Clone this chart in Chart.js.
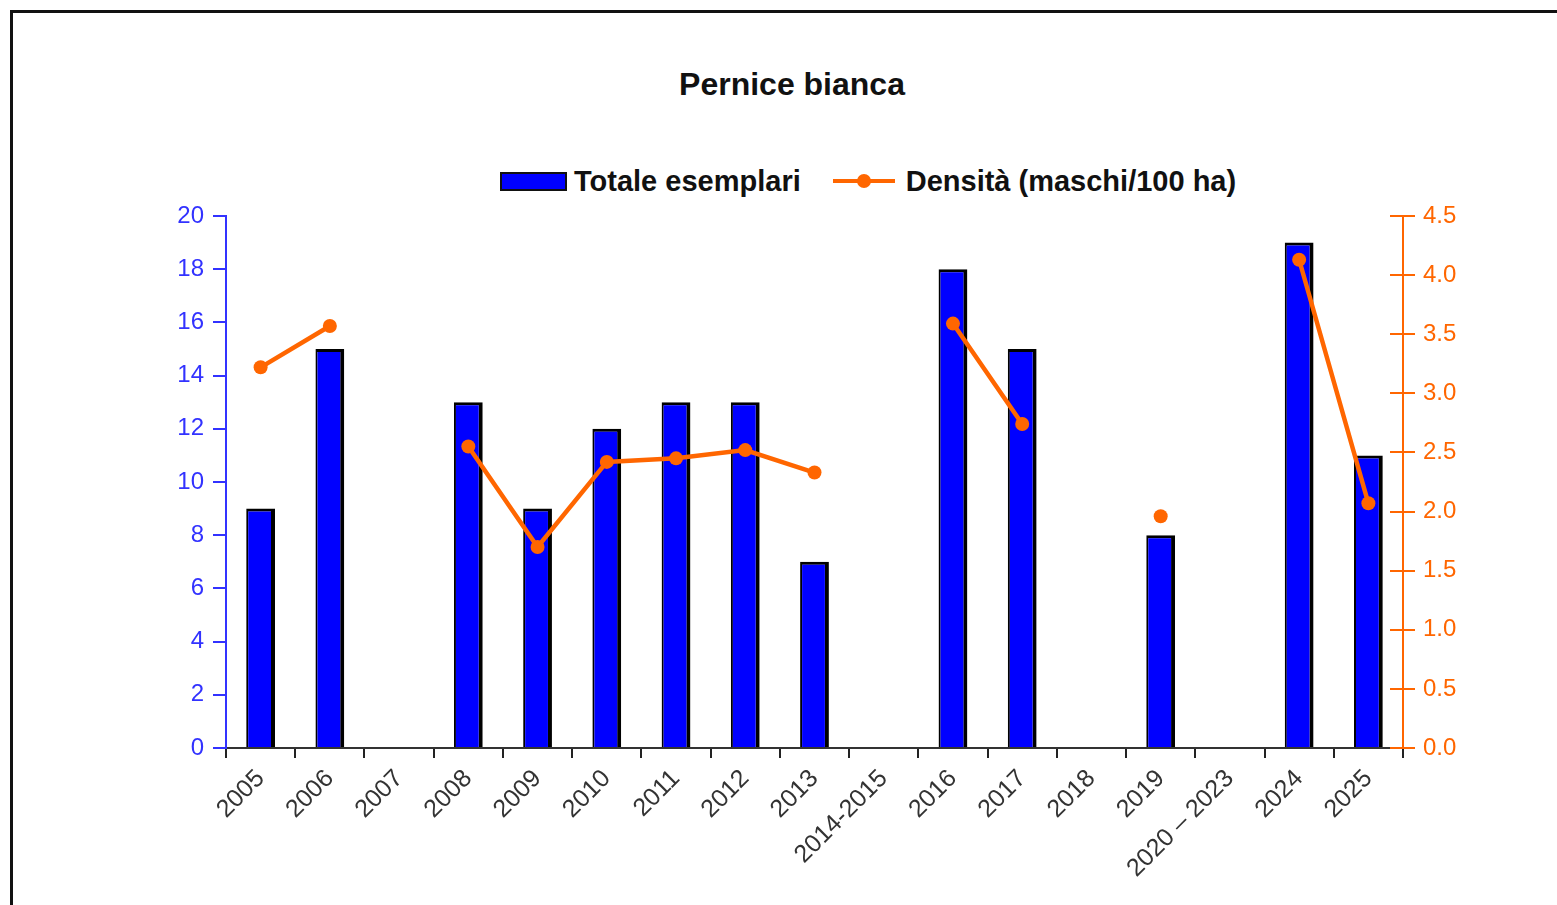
<!DOCTYPE html>
<html>
<head>
<meta charset="utf-8">
<script src="https://cdn.jsdelivr.net/npm/chart.js@4/dist/chart.umd.min.js"></script>
<style>
  body { margin: 0; background: #fff; font-family: "Liberation Sans", Arial, sans-serif; }
  #wrap { position: relative; width: 1557px; height: 905px; overflow: hidden; }
  #frame { position: absolute; left: 10px; top: 10px; width: 1600px; height: 1000px; border-top: 3px solid #111; border-left: 3px solid #111; }
  #title { position: absolute; left: 592px; top: 68px; width: 400px; text-align: center; font-weight: bold; font-size: 32px; line-height: 32px; color: #111; }
  #legend { position: absolute; left: 500px; top: 166px; display: flex; align-items: center; font-weight: bold; font-size: 29px; line-height: 30px; color: #111; }
  .swatch { width: 63px; height: 15px; background: #0000ff; border: 2px solid #111; margin-right: 7px; }
  .lineSample { position: relative; width: 62px; height: 14px; margin-left: 32px; margin-right: 11px; }
  .lineSample::before { content: ""; position: absolute; left: 0; right: 0; top: 5px; height: 4px; background: #ff6600; }
  .lineSample::after { content: ""; position: absolute; left: 24px; top: 0; width: 14px; height: 14px; border-radius: 50%; background: #ff6600; }
  canvas { position: absolute; left: 0; top: 0; }
</style>
</head>
<body>
<div id="wrap">
  <div id="frame"></div>
  <div id="title">Pernice bianca</div>
  <div id="legend">
    <span class="swatch"></span><span>Totale esemplari</span>
    <span class="lineSample"></span><span>Densità (maschi/100 ha)</span>
  </div>
  <canvas id="chart"></canvas>
</div>
<script>
var categories = ["2005", "2006", "2007", "2008", "2009", "2010", "2011", "2012", "2013", "2014-2015",
  "2016", "2017", "2018", "2019", "2020 \u2013 2023", "2024", "2025"];
var totaleEsemplari = [9, 15, null, 13, 9, 12, 13, 13, 7, null, 18, 15, null, 8, null, 19, 11];
var densita = [3.22, 3.57, null, 2.55, 1.70, 2.42, 2.45, 2.52, 2.33, null, 3.59, 2.74, null, 1.96, null, 4.13, 2.07];
var leftTicks = [0, 20, 2];
var rightTicks = [0, 4.5, 0.5];

var BLUE = "#0000ff";
var AXIS_BLUE = "#3232ff";
var ORANGE = "#ff6600";

// short ticks on the inner side of the right axis (they cross the axis line)
var innerTicks = {
  id: "innerTicks",
  afterDraw: function (chart) {
    var s = chart.scales.y1;
    var ctx = chart.ctx;
    ctx.save();
    ctx.strokeStyle = ORANGE;
    ctx.lineWidth = 2;
    s.ticks.forEach(function (t) {
      var y = Math.round(s.getPixelForValue(t.value));
      ctx.beginPath();
      ctx.moveTo(s.left - 13, y);
      ctx.lineTo(s.left, y);
      ctx.stroke();
    });
    ctx.restore();
  }
};

new Chart(document.getElementById("chart"), {
  type: "bar",
  data: {
    labels: categories,
    datasets: [{
      type: "line",
      label: "Densità (maschi/100 ha)",
      data: densita,
      yAxisID: "y1",
      borderColor: ORANGE,
      backgroundColor: ORANGE,
      borderWidth: 4.5,
      pointRadius: 7,
      pointHoverRadius: 7,
      pointBorderWidth: 0,
      spanGaps: false,
      order: 0
    }, {
      label: "Totale esemplari",
      data: totaleEsemplari,
      yAxisID: "y",
      backgroundColor: BLUE,
      borderColor: "#000",
      borderWidth: { left: 2, right: 4, top: 3, bottom: 0 },
      borderSkipped: false,
      categoryPercentage: 0.8,
      barPercentage: 0.52,
      order: 1
    }]
  },
  options: {
    responsive: true,
    maintainAspectRatio: false,
    animation: false,
    layout: { padding: { top: 216, left: 0, right: 0, bottom: 0 } },
    plugins: { legend: { display: false }, title: { display: false }, tooltip: { enabled: false } },
    scales: {
      x: {
        afterFit: function (scale) { scale.height = 157; },
        grid: { drawOnChartArea: false, offset: true, color: "#222", lineWidth: 2, tickLength: 10 },
        border: { color: "#333", width: 2 },
        ticks: {
          color: "#333",
          font: { family: "Liberation Sans", size: 25 },
          maxRotation: 45,
          minRotation: 45,
          padding: 6,
          autoSkip: false
        }
      },
      y: {
        position: "left",
        min: leftTicks[0],
        max: leftTicks[1],
        afterFit: function (scale) { scale.width = 226; },
        grid: { drawOnChartArea: false, color: AXIS_BLUE, lineWidth: 2, tickLength: 13 },
        border: { color: AXIS_BLUE, width: 2 },
        ticks: {
          stepSize: leftTicks[2],
          color: AXIS_BLUE,
          padding: 9,
          font: { family: "Liberation Sans", size: 24 }
        }
      },
      y1: {
        position: "right",
        min: rightTicks[0],
        max: rightTicks[1],
        afterFit: function (scale) { scale.width = 154; },
        grid: { drawOnChartArea: false, color: ORANGE, lineWidth: 2, tickLength: 12 },
        border: { color: ORANGE, width: 2 },
        ticks: {
          stepSize: rightTicks[2],
          color: ORANGE,
          padding: 8,
          font: { family: "Liberation Sans", size: 24 },
          callback: function (v) { return Number(v).toFixed(1); }
        }
      }
    }
  },
  plugins: [innerTicks]
});
</script>
</body>
</html>
